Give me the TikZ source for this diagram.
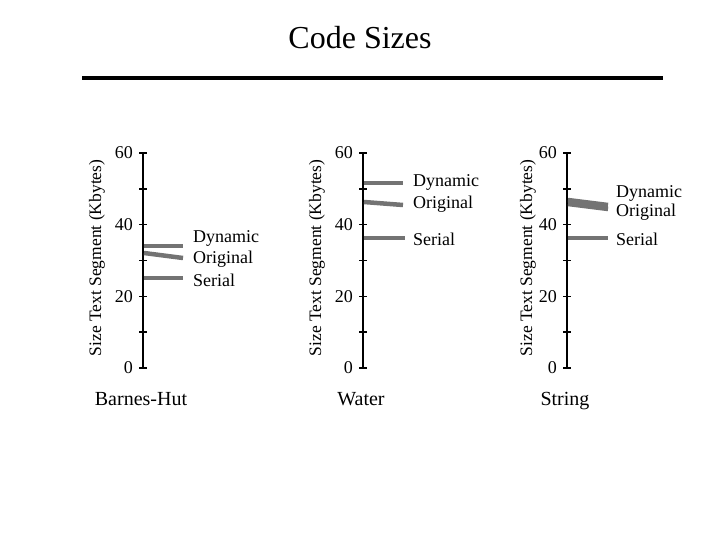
\documentclass[tikz,border=0pt]{standalone}
\usepackage{fontspec}
\setmainfont{Liberation Serif}
\begin{document}
\begin{tikzpicture}[x=1pt,y=-1pt,
  ax/.style={line width=1.6pt,black},
  ser/.style={line width=4.5pt,gray!90!black},
  tl/.style={font=\fontsize{18}{20}\selectfont,anchor=east,inner sep=1pt},
  lg/.style={font=\fontsize{18}{20}\selectfont,anchor=west,inner sep=0pt},
  yl/.style={font=\fontsize{17.5}{19}\selectfont,rotate=90},
  nm/.style={font=\fontsize{20}{22}\selectfont,anchor=base}]
\useasboundingbox (0,0) rectangle (720,540);
\node[font=\fontsize{32}{36}\selectfont] (title) at (360,38) {Code Sizes};
\draw[line width=4pt] (82,78) coordinate (r1) -- (663,78) coordinate (r2);
\foreach \ax/\yx/\nm/\lab in {143/97/p1/Barnes-Hut,363/317/p2/Water,567/528/p3/String}{
  \coordinate (\nm top) at (\ax,153);
  \coordinate (\nm bot) at (\ax,368);
  \draw[ax] (\nm top) -- (\nm bot);
  \foreach \v in {0,1,...,6}{
    \draw[ax] (\ax-4,{368-\v*35.83}) -- (\ax+4,{368-\v*35.83});
  }
  \foreach \v in {0,20,40,60}{
    \node[tl] at (\ax-9,{368-\v*3.583}) {\v};
  }
  \node[yl] (\nm yl) at (\yx,258) {Size Text Segment (Kbytes)};
  \node[nm] (\nm name) at (\ax-2,405) {\lab};
}
% panel 1
\draw[ser] (144,246) -- (183,246);
\draw[ser] (144,253) -- (183,258);
\draw[ser] (144,278) -- (183,278);
\node[lg] (d1) at (193,238) {Dynamic};
\node[lg] (o1) at (193,259) {Original};
\node[lg] (s1) at (193,280) {Serial};
% panel 2
\draw[ser] (364,183) -- (403,183);
\draw[ser] (364,202) -- (403,205);
\draw[ser] (364,238) -- (405,238);
\node[lg] (d2) at (413,182) {Dynamic};
\node[lg] (o2) at (413,204) {Original};
\node[lg] (s2) at (413,239) {Serial};
% panel 3
\draw[ser] (568,200) -- (608,205);
\draw[ser] (568,204) -- (608,209);
\draw[ser] (568,238) -- (608,238);
\node[lg] (d3) at (616,193) {Dynamic};
\node[lg] (o3) at (616,212) {Original};
\node[lg] (s3) at (616,239) {Serial};
\end{tikzpicture}
\end{document}
